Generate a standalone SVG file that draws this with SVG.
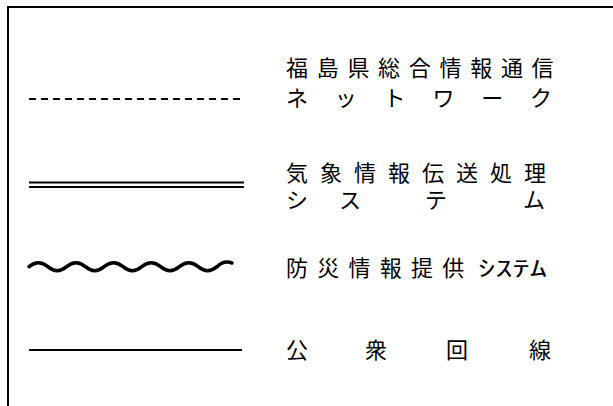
<svg xmlns="http://www.w3.org/2000/svg" width="613" height="406" viewBox="0 0 613 406">
<style>
.frame{stroke:#000;stroke-width:2;fill:none}
.ln{stroke:#000;fill:none}
.t{font-family:"Noto Sans CJK JP","Noto Sans CJK SC",sans-serif;font-size:22px;fill:#000}
</style>
<rect width="613" height="406" fill="#fff"/>
<g id="frame">
<path class="frame" d="M8,406 V7 H613"/>
</g>
<g id="connectors">
<line id="dashed" class="ln" x1="29" y1="99" x2="242" y2="99" stroke-width="2" stroke-dasharray="7,5"/>
<line id="double1" class="ln" x1="29" y1="182.5" x2="244" y2="182.5" stroke-width="2"/>
<line id="double2" class="ln" x1="29" y1="187" x2="244" y2="187" stroke-width="2"/>
<path id="wave" class="ln" stroke-width="3.5" stroke-linecap="round" d="M29,266.7 Q38.4,258.7 47.8,266.7 T66.6,266.7 T85.4,266.7 T104.2,266.7 T123,266.7 T141.8,266.7 T160.6,266.7 T179.4,266.7 T198.2,266.7 T217,266.7 Q224,260 232,263"/>
<line id="solid" class="ln" x1="29" y1="350" x2="242" y2="350" stroke-width="2"/>
</g>
<g id="label-network">
<text class="t" x="286 316.7 347.4 378.1 408.8 439.5 470.2 500.9 531.6" y="76">福島県総合情報通信</text>
<text class="t" x="286 334.8 383.6 432.4 481.2 530" y="105.5">ネットワーク</text>
</g>
<g id="label-weather">
<text class="t" x="286 320 354 388 422 456 490 524" y="180.5">気象情報伝送処理</text>
<text class="t" x="286 339 425 523" y="208">システム</text>
</g>
<g id="label-bousai">
<text class="t" x="286 317.25 348.5 379.75 411 442.25" y="276">防災情報提供</text>
<text class="t" x="478" y="276" textLength="69" lengthAdjust="spacingAndGlyphs">ｼｽﾃﾑ</text>
</g>
<g id="label-public">
<text class="t" x="286 365 446 529" y="358">公衆回線</text>
</g>
</svg>
